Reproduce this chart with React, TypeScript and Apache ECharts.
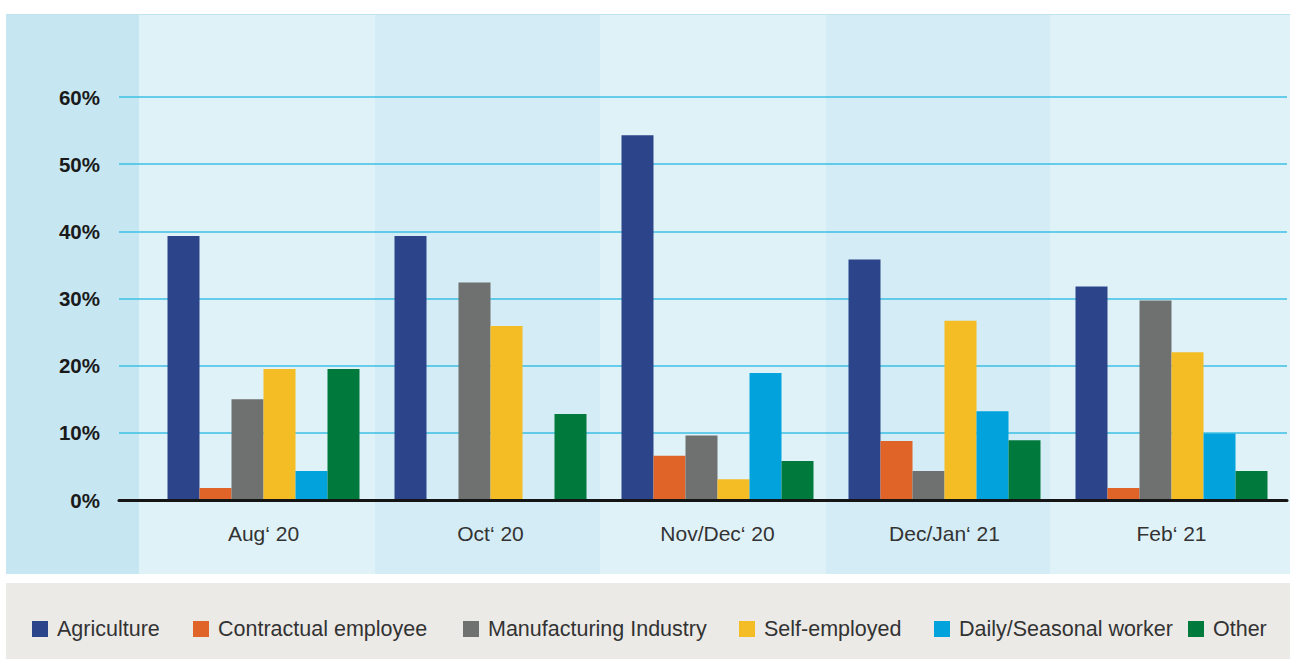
import React, { useEffect, useRef } from "react";
import * as echarts from "echarts";

const categories = ["Aug\u2018 20", "Oct\u2018 20", "Nov/Dec\u2018 20", "Dec/Jan\u2018 21", "Feb\u2018 21"];
const seriesNames = ["Agriculture", "Contractual employee", "Manufacturing Industry", "Self-employed", "Daily/Seasonal worker", "Other"];
const agriculture = [39.3, 39.3, 54.3, 35.8, 31.8];
const contractual = [1.8, 0, 6.6, 8.8, 1.8];
const manufacturing = [15.0, 32.4, 9.6, 4.3, 29.7];
const selfEmployed = [19.5, 25.9, 3.1, 26.7, 22.0];
const dailySeasonal = [4.3, 0, 18.9, 13.2, 9.9];
const other = [19.5, 12.8, 5.8, 8.9, 4.3];
const yTicks = [0, 10, 20, 30, 40, 50, 60];

const seriesValues = [agriculture, contractual, manufacturing, selfEmployed, dailySeasonal, other];
const colors = ["#2c4489", "#e06328", "#6f7170", "#f4bc25", "#02a3dc", "#00793d"];
const legendLefts = [32, 193, 463, 739, 934, 1188];

const FONT = "'Liberation Sans', Arial, sans-serif";

export default function App() {
  const ref = useRef<HTMLDivElement>(null);
  useEffect(() => {
    if (!ref.current) return;
    const chart = echarts.init(ref.current, undefined, { renderer: "svg" });
    const bands = [
      { x: 6, w: 133, c: "#c6e6f1" },
      { x: 139, w: 236, c: "#dff2f8" },
      { x: 375, w: 225, c: "#d3ecf5" },
      { x: 600, w: 226, c: "#dff2f8" },
      { x: 826, w: 224, c: "#d3ecf5" },
      { x: 1050, w: 240, c: "#dff2f8" },
    ];
    const graphics: any[] = bands.map((b) => ({
      type: "rect",
      z: -10,
      shape: { x: b.x, y: 14, width: b.w, height: 560 },
      style: { fill: b.c },
    }));
    graphics.push({
      type: "line",
      z: -9,
      shape: { x1: 6, y1: 14.5, x2: 1290, y2: 14.5 },
      style: { stroke: "#bfe3ef", lineWidth: 1 },
    });
    graphics.push({
      type: "rect",
      z: -10,
      shape: { x: 6, y: 583, width: 1284, height: 76 },
      style: { fill: "#ebeae7" },
    });

    const option: any = {
      animation: false,
      graphic: graphics,
      grid: [
        { left: 150, right: 5, top: 97, bottom: 159 },
        { left: 119, right: 3, top: 97, bottom: 159 },
      ],
      legend: seriesNames.map((n, i) => ({
        data: [n],
        left: legendLefts[i],
        top: 618,
        padding: 0,
        itemWidth: 16,
        itemHeight: 16,
        icon: "rect",
        selectedMode: false,
        textStyle: { fontSize: 21.5, color: "#333", fontFamily: FONT, padding: [0, 0, 0, 4] },
      })),
      xAxis: [
        {
          type: "category",
          gridIndex: 0,
          data: categories,
          axisLine: { show: false },
          axisTick: { show: false },
          axisLabel: { fontSize: 21, color: "#333", fontFamily: FONT, margin: 23 },
        },
        {
          type: "value",
          gridIndex: 1,
          min: 0,
          max: 1,
          z: 5,
          axisLine: { show: true, lineStyle: { color: "#151515", width: 3 } },
          axisTick: { show: false },
          axisLabel: { show: false },
          splitLine: { show: false },
        },
      ],
      yAxis: [
        { type: "value", gridIndex: 0, min: 0, max: 60, interval: 10, show: false, splitLine: { show: false } },
        {
          type: "value",
          gridIndex: 1,
          min: 0,
          max: 60,
          interval: 10,
          axisLine: { show: false },
          axisTick: { show: false },
          axisLabel: {
            formatter: (v: number) => (yTicks.includes(v) ? v + "%" : ""),
            fontSize: 20.5,
            fontWeight: "bold",
            color: "#1a1a1a",
            fontFamily: FONT,
            margin: 19,
          },
          splitLine: { show: true, lineStyle: { color: "#3dbfe4", width: 1.5 } },
        },
      ],
      series: seriesNames.map((n, i) => ({
        name: n,
        type: "bar",
        xAxisIndex: 0,
        yAxisIndex: 0,
        data: seriesValues[i],
        barWidth: 32,
        barGap: "0%",
        itemStyle: { color: colors[i] },
      })),
    };
    chart.setOption(option);
    return () => chart.dispose();
  }, []);
  return (
    <div
      ref={ref}
      style={{ position: "absolute", left: 0, top: 0, width: 1290, height: 659, background: "#fff" }}
    />
  );
}
